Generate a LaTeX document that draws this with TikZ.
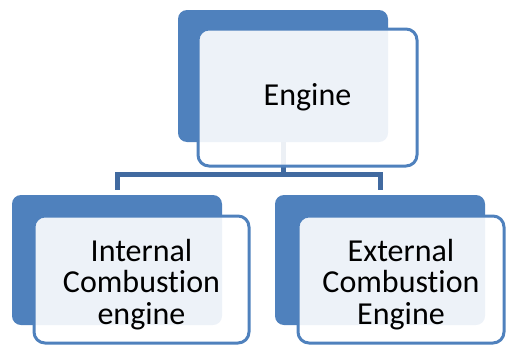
\documentclass[tikz,border=0pt]{standalone}
\usepackage{fontspec}
\setmainfont{Carlito}[Ligatures=NoCommon]
\definecolor{accent}{RGB}{79,129,189}
\definecolor{connc}{RGB}{65,106,160}
\newcommand{\boxtext}[1]{\raisebox{-7pt}[\height][\depth]{\begin{tabular}{@{}c@{}}#1\end{tabular}}}
\begin{document}
\begin{tikzpicture}[x=1pt,y=-1pt,
  backbox/.style={fill=accent,draw=none,rounded corners=9pt,inner sep=0pt},
  frontbox/.style={draw=accent,line width=3pt,fill=white,fill opacity=0.9,text opacity=1,
    rounded corners=11pt,inner sep=0pt,align=center,
    font=\fontsize{32}{31.5}\selectfont},
  conn/.style={draw=connc,line width=5pt}]
\useasboundingbox (0,0) rectangle (506,351);
% back boxes
\node[backbox,minimum width=210pt,minimum height=132pt] (tb) at (283,76) {};
\node[backbox,minimum width=210pt,minimum height=130pt] (lb) at (117,260) {};
\node[backbox,minimum width=210pt,minimum height=130pt] (rb) at (380,260) {};
% connectors
\coordinate (j) at (283,174.5);
\draw[conn] (tb.south) -- (j);
\draw[conn] ([yshift=5pt]lb.north) -- (lb.north |- j) -- (rb.north |- j) -- ([yshift=5pt]rb.north);
% front boxes
\node[frontbox,minimum width=219pt,minimum height=137pt] (tf) at (307.5,97.5) {Engine};
\node[frontbox,minimum width=215pt,minimum height=127pt] (lf) at (141.5,279.5) {\boxtext{Internal\\Combustion\\engine}};
\node[frontbox,minimum width=206pt,minimum height=127pt] (rf) at (401,279.5) {\boxtext{External\\Combustion\\Engine}};
\end{tikzpicture}
\end{document}
